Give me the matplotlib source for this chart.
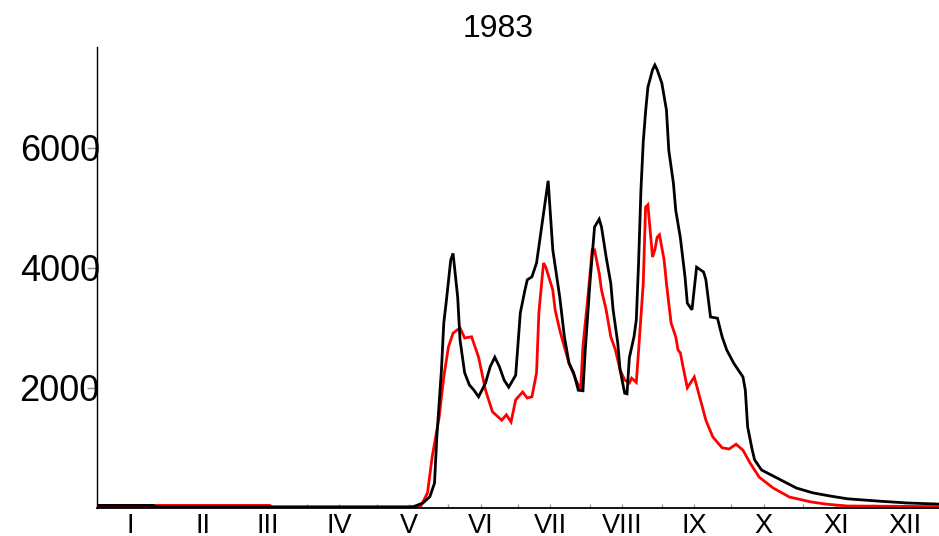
import matplotlib
matplotlib.use("Agg")
import matplotlib.pyplot as plt
import pandas as pd

plt.rcParams['font.family'] = ['Liberation Sans', 'DejaVu Sans']

year = 1983
month_labels = ['I', 'II', 'III', 'IV', 'V', 'VI', 'VII', 'VIII', 'IX', 'X', 'XI', 'XII']

# daily series (day of year, value)
black_day = [1, 25, 26, 135, 137, 141, 144, 146, 147, 149, 150, 151, 153, 154, 156, 157,
             159, 161, 163, 165, 168, 170, 172, 174, 176, 178, 181, 183, 185, 186, 188, 190,
             192, 195, 197, 200, 202, 204, 206, 208, 210, 211, 213, 215, 217, 218, 220, 222,
             223, 225, 226, 228, 229, 230, 232, 233, 234, 235, 236, 237, 238, 240, 241, 242,
             244, 246, 247, 249, 250, 252, 254, 255, 257, 259, 262, 263, 265, 268, 270, 272,
             275, 279, 280, 281, 283, 284, 287, 293, 298, 302, 309, 316, 324, 338, 350, 365]
black_val = [40, 40, 15, 15, 20, 80, 185, 410, 1180, 2300, 3080, 3410, 4130, 4240, 3510, 2800,
             2250, 2050, 1960, 1850, 2080, 2350, 2510, 2350, 2130, 2010, 2210, 3250, 3630, 3800, 3850, 4080,
             4630, 5450, 4300, 3510, 2850, 2410, 2250, 1960, 1950, 2630, 3740, 4680, 4810, 4680, 4180, 3740,
             3300, 2750, 2300, 1910, 1900, 2500, 2850, 3130, 4100, 5300, 6100, 6600, 7010, 7300, 7380, 7300,
             7080, 6630, 5960, 5410, 4960, 4500, 3850, 3410, 3300, 4010, 3930, 3800, 3180, 3160, 2850, 2630,
             2410, 2180, 1960, 1350, 960, 800, 630, 510, 410, 330, 250, 200, 150, 110, 80, 60]

red_day = [1, 25, 26, 75, 76, 139, 140, 143, 145, 148, 150, 152, 154, 157, 159, 162,
           165, 168, 171, 175, 177, 179, 181, 184, 186, 188, 190, 191, 193, 194, 197, 198,
           200, 202, 204, 207, 209, 210, 212, 214, 215, 217, 218, 220, 222, 224, 226, 228,
           230, 231, 233, 234, 236, 237, 238, 240, 241, 242, 243, 245, 246, 247, 248, 250,
           251, 252, 253, 255, 258, 261, 263, 266, 270, 273, 276, 279, 282, 286, 292, 299,
           308, 315, 324, 365]
red_val = [15, 15, 40, 40, 10, 10, 20, 250, 850, 1510, 2180, 2680, 2910, 3000, 2830, 2850,
           2510, 1960, 1600, 1460, 1550, 1430, 1800, 1930, 1830, 1850, 2250, 3250, 4080, 4010, 3630, 3300,
           2960, 2680, 2410, 2130, 1960, 2700, 3460, 4300, 4300, 3910, 3630, 3300, 2850, 2630, 2300, 2130,
           2080, 2160, 2090, 2630, 3740, 5010, 5050, 4180, 4300, 4510, 4550, 4130, 3740, 3410, 3080, 2850,
           2630, 2580, 2380, 2000, 2180, 1750, 1460, 1180, 1000, 980, 1060, 960, 750, 510, 330, 180,
           100, 60, 30, 20]

y_ticks = [2000, 4000, 6000]

# month positions as day of year
months = pd.date_range(f'{year}-01-01', periods=12, freq='MS')
month_start = list(months.dayofyear)
month_mid = list((months + pd.Timedelta(days=14)).dayofyear)

fig = plt.figure(figsize=(9.39, 5.36), dpi=100)
W, H = 939, 536
ax = fig.add_axes([97 / W, (H - 507.8) / H, (W - 97) / W, (507.8 - 47) / H])

ax.plot(red_day, red_val, color='#ff0000', lw=2.0, solid_joinstyle='miter')
ax.plot(black_day, black_val, color='black', lw=2.0, solid_joinstyle='miter')

ax.set_xlim(0.5, 363.5)
ax.set_ylim(0, 7680)

for side in ('top', 'right'):
    ax.spines[side].set_visible(False)
ax.spines['left'].set_linewidth(1.0)
ax.spines['bottom'].set_linewidth(1.3)

ax.set_xticks(month_mid)
ax.set_xticklabels(month_labels)
ax.set_xticks(month_start, minor=True)
ax.tick_params(axis='x', which='both', direction='in', length=3, width=1,
               color='#9a9a9a', pad=3.5, labelsize=19.5)
ax.set_yticks(y_ticks)
ax.set_yticklabels([str(v) for v in y_ticks])
ax.tick_params(axis='y', direction='out', length=7, width=1, color='#888888',
               pad=-9, labelsize=26)

fig.text(498 / W, 1 - 37 / H, str(year), ha='center', va='baseline', fontsize=23)

fig.savefig('out.png', dpi=100)
